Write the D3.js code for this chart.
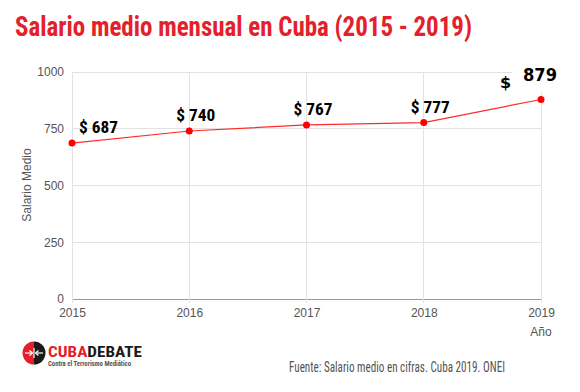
<!DOCTYPE html>
<html><head><meta charset="utf-8">
<script src="https://cdn.jsdelivr.net/npm/d3@7"></script>
<style>
html,body{margin:0;padding:0;background:#fff;}
svg{display:block;}
</style></head>
<body>
<svg id="c" width="580" height="392"></svg>
<script>
const years = [2015, 2016, 2017, 2018, 2019];
const salaries = [687, 740, 767, 777, 879];
const yTicks = [0, 250, 500, 750, 1000];
const titleText = "Salario medio mensual en Cuba (2015 - 2019)";
const sourceText = "Fuente: Salario medio en cifras. Cuba 2019. ONEI";

const svg = d3.select("#c");
const narrow = "'Liberation Sans Narrow','Roboto Condensed','Arial Narrow',Roboto,sans-serif";
const red = "#e4202a";

const x = d3.scalePoint().domain(years).range([72, 541]);
const y = d3.scaleLinear().domain([0, 1000]).range([299, 72]);

// title
svg.append("text").attr("x", 15).attr("y", 36)
  .attr("font-family", narrow).attr("font-weight", "bold").attr("font-size", 28)
  .attr("fill", red).attr("textLength", 457).attr("lengthAdjust", "spacingAndGlyphs")
  .text(titleText);

// gridlines
const g = svg.append("g");
g.selectAll("line.h").data(yTicks).join("line")
  .attr("x1", 72).attr("x2", 541)
  .attr("y1", d => y(d)).attr("y2", d => y(d))
  .attr("stroke", d => d === 0 ? "#9a9a9a" : "#e2e2e2").attr("stroke-width", 1)
  .attr("shape-rendering", "crispEdges");
g.selectAll("line.v").data(years).join("line")
  .attr("x1", d => x(d)).attr("x2", d => x(d))
  .attr("y1", y(1000)).attr("y2", y(0) + 4)
  .attr("stroke", "#e2e2e2").attr("stroke-width", 1)
  .attr("shape-rendering", "crispEdges");

// y axis labels
const yAxis = d3.axisLeft(y).tickValues(yTicks).tickSize(0).tickPadding(8).tickFormat(d3.format("d"));
const ya = svg.append("g").attr("transform", "translate(72,0)").call(yAxis);
ya.select(".domain").remove();
ya.selectAll("text").attr("font-family", "'Liberation Sans',Arial,sans-serif").attr("font-size", 12).attr("fill", "#555");

// x axis labels
const xAxis = d3.axisBottom(x).tickSize(0).tickPadding(9).tickFormat(d3.format("d"));
const xa = svg.append("g").attr("transform", "translate(0,299)").call(xAxis);
xa.select(".domain").remove();
xa.selectAll("text").attr("font-family", "'Liberation Sans',Arial,sans-serif").attr("font-size", 12).attr("fill", "#555");

// axis titles
svg.append("text").attr("transform", "translate(31,185) rotate(-90)").attr("text-anchor", "middle")
  .attr("font-family", "'Liberation Sans',Arial,sans-serif").attr("font-size", 12).attr("fill", "#555")
  .text("Salario Medio");
svg.append("text").attr("x", 541).attr("y", 336).attr("text-anchor", "middle")
  .attr("font-family", "'Liberation Sans',Arial,sans-serif").attr("font-size", 12).attr("fill", "#555")
  .text("Año");

// line
const data = years.map((yr, i) => ({yr, v: salaries[i]}));
svg.append("path").datum(data)
  .attr("d", d3.line().x(d => x(d.yr)).y(d => y(d.v)))
  .attr("fill", "none").attr("stroke", "#ff2a2a").attr("stroke-width", 1.2);
svg.selectAll("circle.p").data(data).join("circle")
  .attr("cx", d => x(d.yr)).attr("cy", d => y(d.v)).attr("r", 3.5).attr("fill", "#ff0000");

// data labels
data.forEach((d, i) => {
  const px = x(d.yr), py = y(d.v);
  if (i < data.length - 1) {
    const lx = i === 0 ? px + 7 : px - 13;
    svg.append("text").attr("x", lx).attr("y", py - 10)
      .attr("font-family", narrow).attr("font-weight", "bold").attr("font-size", 17)
      .attr("fill", "#000").attr("textLength", 39).attr("lengthAdjust", "spacingAndGlyphs")
      .text("$ " + d.v);
  } else {
    svg.append("rect").attr("x", 512).attr("y", 66).attr("width", 50).attr("height", 26).attr("fill", "#fff");
    svg.append("text").attr("x", 500).attr("y", py - 11)
      .attr("font-family", "'DejaVu Sans',sans-serif").attr("font-weight", "bold").attr("font-size", 16)
      .attr("fill", "#000").text("$");
    svg.append("text").attr("x", 523).attr("y", py - 18)
      .attr("font-family", "'DejaVu Sans',sans-serif").attr("font-weight", "bold").attr("font-size", 17)
      .attr("fill", "#000").attr("textLength", 34).attr("lengthAdjust", "spacingAndGlyphs").text(String(d.v));
  }
});

// source
svg.append("text").attr("x", 289).attr("y", 372)
  .attr("font-family", narrow).attr("font-size", 14).attr("fill", "#555")
  .attr("textLength", 216).attr("lengthAdjust", "spacingAndGlyphs")
  .text(sourceText);

// logo
const logo = svg.append("g");
const cx = 34, cy = 353, r = 11.5;
logo.append("path").attr("d", `M${cx},${cy - r} A${r},${r} 0 0,0 ${cx},${cy + r} Z`).attr("fill", "#e3202a");
logo.append("path").attr("d", `M${cx},${cy - r} A${r},${r} 0 0,1 ${cx},${cy + r} Z`).attr("fill", "#1a1a1a");
logo.append("line").attr("x1", cx).attr("x2", cx).attr("y1", cy - 5).attr("y2", cy + 5).attr("stroke", "#fff").attr("stroke-width", 1.2);
logo.append("line").attr("x1", cx - 9).attr("x2", cx - 1.5).attr("y1", cy).attr("y2", cy).attr("stroke", "#fff").attr("stroke-width", 1.2);
logo.append("line").attr("x1", cx + 1.5).attr("x2", cx + 9).attr("y1", cy).attr("y2", cy).attr("stroke", "#fff").attr("stroke-width", 1.2);
logo.append("path").attr("d", `M${cx-1.5},${cy} l-3,-2.5 M${cx-1.5},${cy} l-3,2.5`).attr("stroke", "#fff").attr("stroke-width", 1.2).attr("fill", "none");
logo.append("path").attr("d", `M${cx+1.5},${cy} l3,-2.5 M${cx+1.5},${cy} l3,2.5`).attr("stroke", "#fff").attr("stroke-width", 1.2).attr("fill", "none");
const lt = logo.append("text").attr("x", 48).attr("y", 357)
  .attr("font-family", narrow).attr("font-weight", "bold").attr("font-size", 15)
  .attr("textLength", 94).attr("lengthAdjust", "spacingAndGlyphs");
lt.append("tspan").attr("fill", "#e3202a").text("CUBA");
lt.append("tspan").attr("fill", "#1a1a1a").text("DEBATE");
logo.append("text").attr("x", 48).attr("y", 366)
  .attr("font-family", narrow).attr("font-weight", "bold").attr("font-size", 6.5).attr("fill", "#555")
  .attr("textLength", 83).attr("lengthAdjust", "spacingAndGlyphs")
  .text("Contra el Terrorismo Mediático");
</script>
</body></html>
